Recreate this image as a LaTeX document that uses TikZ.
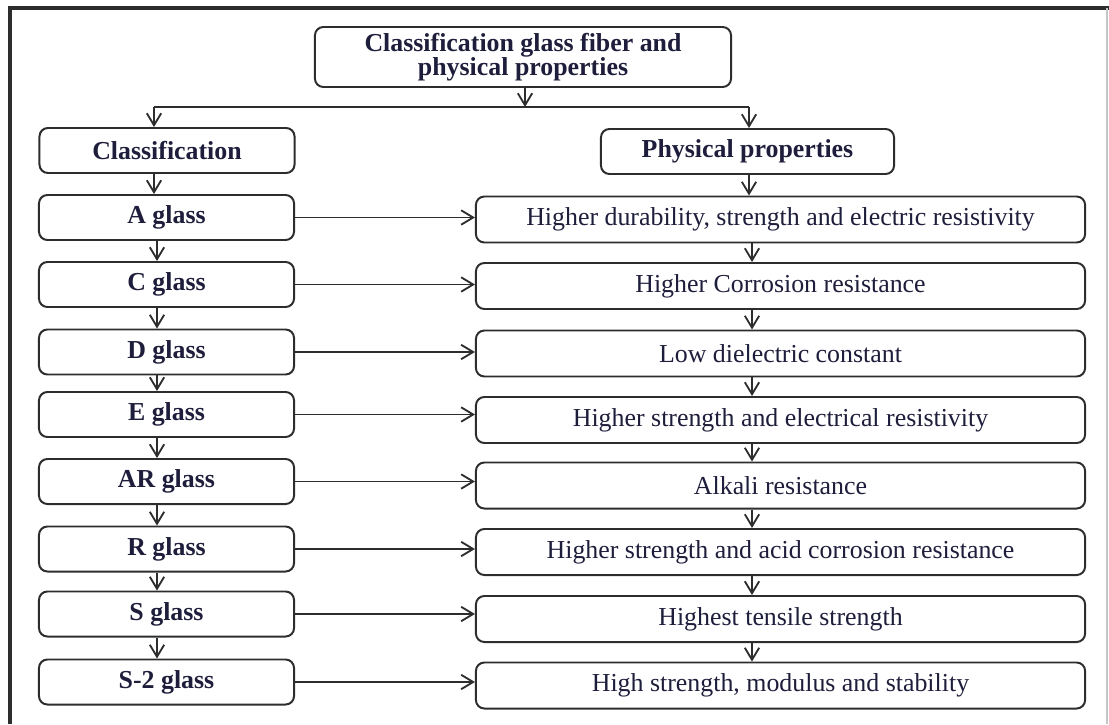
\documentclass[tikz,border=0pt]{standalone}
\usepackage{fontspec}
\setmainfont{Liberation Serif}
\usetikzlibrary{arrows.meta, positioning, calc}
\definecolor{glassink}{RGB}{30, 30, 60}
\definecolor{glassline}{RGB}{45, 45, 45}
\tikzset{
  headbox/.style={rectangle, rounded corners=6pt, draw=glassline, line width=1.4pt, fill=white,
                  text=glassink, minimum width=#1, minimum height=1.125cm, inner sep=0pt,
                  align=center, font=\fontsize{18.4}{17}\selectfont\bfseries},
  headbox/.default=6.375cm,
  propbox/.style={rectangle, rounded corners=6pt, draw=glassline, line width=1.4pt, fill=white,
                  text=glassink, minimum width=#1, minimum height=1.15cm, inner sep=0pt,
                  align=center, font=\fontsize{18.4}{17}\selectfont},
  propbox/.default=15.225cm,
  arrow/.style={-{Straight Barb[length=3mm, width=3.6mm]}, line width=1.3pt, color=glassline},
  link/.style={line width=1.3pt, color=glassline},
}
\begin{document}
\begin{tikzpicture}[x=0.025cm, y=-0.025cm]
  \useasboundingbox (0,0) rectangle (1109,724);
  % frame round the figure
  \draw[line width=2.2pt, glassline] (10,724) -- (10,8) -- (1109,8);
  \draw[line width=0.8pt, gray!45] (1107,8) -- (1107,724);

  % heads
  \node[headbox=10.4cm, minimum height=1.5cm] (top) at (523,57)
       {Classification glass fiber and\\physical properties};
  \node[headbox] (cls) at (167,150.5) {Classification};
  \node[headbox=7.325cm] (phys) at (747.5,151.5) {Physical properties};

  % glass types
  \node[headbox] (ga)    at (166.5,217.5) {A glass};
  \node[headbox] (gc)    at (166.5,284.5) {C glass};
  \node[headbox] (gd)    at (166.5,352)   {D glass};
  \node[headbox] (ge)    at (166.5,414.5) {E glass};
  \node[headbox] (gar)   at (166.5,481.5) {AR glass};
  \node[headbox] (gr)    at (166.5,549)   {R glass};
  \node[headbox] (gs)    at (166.5,614)   {S glass};
  \node[headbox] (gstwo) at (166.5,682)   {S-2 glass};

  % properties
  \node[propbox] (pa)    at (780.5,219.5) {Higher durability, strength and electric resistivity};
  \node[propbox] (pc)    at (780.5,286)   {Higher Corrosion resistance};
  \node[propbox] (pd)    at (780.5,353.5) {Low dielectric constant};
  \node[propbox] (pe)    at (780.5,420)   {Higher strength and electrical resistivity};
  \node[propbox] (par)   at (780.5,485.5) {Alkali resistance};
  \node[propbox] (pr)    at (780.5,552)   {Higher strength and acid corrosion resistance};
  \node[propbox] (ps)    at (780.5,619)   {Highest tensile strength};
  \node[propbox] (pstwo) at (780.5,685.5) {High strength, modulus and stability};

  % split under the head
  \coordinate (busT) at (525,107);
  \coordinate (busL) at (154,107);
  \coordinate (busR) at (749,107);
  \coordinate (lcol) at (157,0);
  \coordinate (rcol) at (752,0);
  \draw[arrow] (top.south -| busT) -- (busT);
  \draw[link] (busL) -- (busR);
  \draw[arrow] (busL) -- (cls.north -| busL);
  \draw[arrow] (busR) -- (phys.north -| busR);
  \draw[arrow] (cls.south -| busL) -- (ga.north -| busL);
  \draw[arrow] (phys.south -| busR) -- (pa.north -| busR);

  % columns
  \foreach \a/\b in {ga/gc, gc/gd, gd/ge, ge/gar, gar/gr, gr/gs, gs/gstwo}
    \draw[arrow] (\a.south -| lcol) -- (\b.north -| lcol);
  \foreach \a/\b in {pa/pc, pc/pd, pd/pe, pe/par, par/pr, pr/ps, ps/pstwo}
    \draw[arrow] (\a.south -| rcol) -- (\b.north -| rcol);

  % rows
  \foreach \g/\p in {ga/pa, gc/pc, gd/pd, ge/pe, gar/par, gr/pr, gs/ps, gstwo/pstwo}
    \draw[arrow] (\g.east) -- (\g.east -| \p.west);
\end{tikzpicture}
\end{document}
